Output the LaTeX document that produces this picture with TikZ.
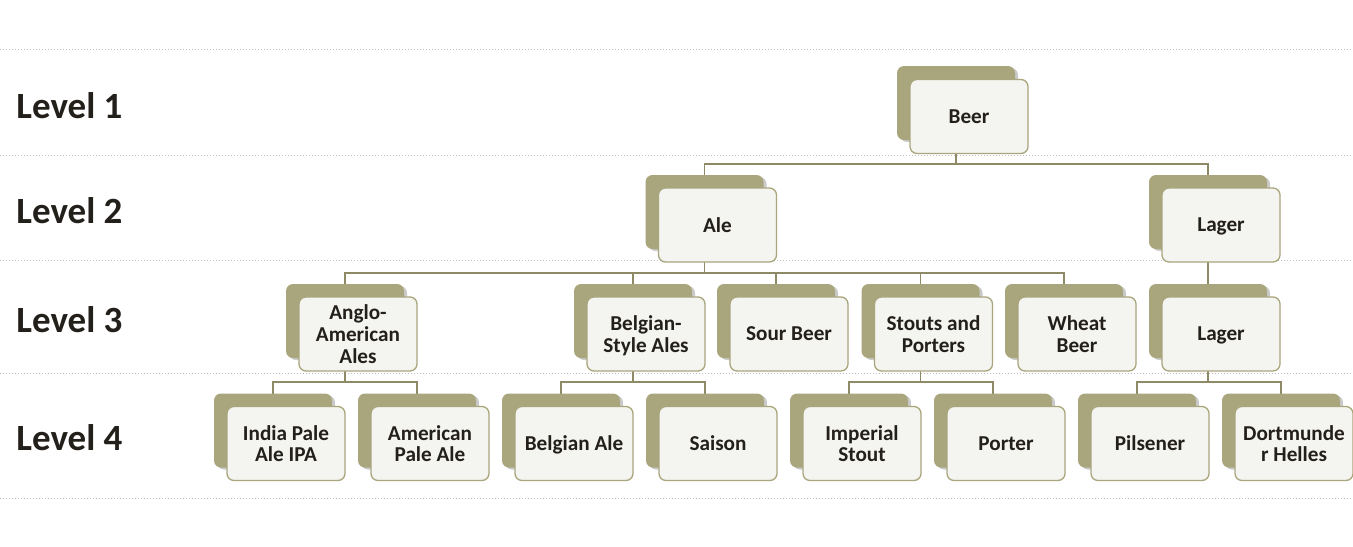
\documentclass[tikz,border=0pt]{standalone}
\usepackage{fontspec}
\setmainfont{Carlito}
\usepackage{xcolor}
\usetikzlibrary{calc,
	positioning,
	shadows,
	backgrounds}

\definecolor{khaki}{HTML}{A9A57D}
\definecolor{khakiline}{HTML}{8E8A66}
\definecolor{boxfill}{HTML}{F4F4F0}
\definecolor{ink}{HTML}{231F1A}

\begin{document}
\begin{tikzpicture}[x=0.5pt, y=-0.5pt,
	back/.style={fill=khaki, rounded corners=3.5pt, minimum width=59pt, minimum height=37pt, inner sep=0pt,
		drop shadow={shadow xshift=1.5pt, shadow yshift=-1pt, opacity=0.35, fill=black!60}},
	front/.style={fill=boxfill, draw=khaki, line width=0.65pt, rounded corners=3.5pt, minimum width=59pt, minimum height=37pt,
		inner sep=1pt, align=center, text depth=0pt, text=ink, font=\bfseries\fontsize{10.6}{10.8}\selectfont},
	conn/.style={draw=khakiline, line width=0.8pt},
	level/.style={anchor=base west, inner sep=0pt, text=ink, font=\bfseries\fontsize{18.5}{22}\selectfont},
	rule/.style={draw=black!25, densely dotted, line width=0.5pt}]
	\useasboundingbox (0,0) rectangle (1353,546);

	% level labels
	\node[level] (l1) at (16,118.3) {Level 1};
	\node[level] (l2) at (16,223.3) {Level 2};
	\node[level] (l3) at (16,332.7) {Level 3};
	\node[level] (l4) at (16,450.7) {Level 4};

	% level 1
	\node[back] (beer b) at (956,103) {};
	\node[front] (beer) at (969,116.5) {Beer};

	% level 2
	\node[back] (ale b) at (704.5,212) {};
	\node[front] (ale) at (717.5,225) {Ale};
	\node[back] (lager b) at (1208,212) {};
	\node[front] (lager) at (1221,225) {Lager};

	% level 3
	\node[back] (anglo b) at (345,321) {};
	\node[front] (anglo) at (358,334) {Anglo-\\American\\Ales};
	\node[back] (belgian b) at (633,321) {};
	\node[front] (belgian) at (646,334) {Belgian-\\Style Ales};
	\node[back] (sour b) at (776,321) {};
	\node[front] (sour) at (789,334) {Sour Beer};
	\node[back] (stouts b) at (920.5,321) {};
	\node[front] (stouts) at (933.5,334) {Stouts and\\Porters};
	\node[back] (wheat b) at (1064,321) {};
	\node[front] (wheat) at (1077,334) {Wheat\\Beer};
	\node[back] (lager3 b) at (1208,321) {};
	\node[front] (lager3) at (1221,334) {Lager};

	% level 4
	\node[back] (ipa b) at (273,430.5) {};
	\node[front] (ipa) at (286,443.5) {India Pale\\Ale IPA};
	\node[back] (apa b) at (417,430.5) {};
	\node[front] (apa) at (430,443.5) {American\\Pale Ale};
	\node[back] (bale b) at (561,430.5) {};
	\node[front] (bale) at (574,443.5) {Belgian Ale};
	\node[back] (saison b) at (705,430.5) {};
	\node[front] (saison) at (718,443.5) {Saison};
	\node[back] (imperial b) at (849,430.5) {};
	\node[front] (imperial) at (862,443.5) {Imperial\\Stout};
	\node[back] (porter b) at (993,430.5) {};
	\node[front] (porter) at (1006,443.5) {Porter};
	\node[back] (pils b) at (1137,430.5) {};
	\node[front] (pils) at (1150,443.5) {Pilsener};
	\node[back] (dort b) at (1281,430.5) {};
	\node[front] (dort) at (1294,443.5) {Dortmunde\\r Helles};

	\coordinate (j1) at (0,164);
	\coordinate (j2) at (0,273);
	\coordinate (j3) at (0,382);

	\begin{scope}[on background layer]
		\draw[rule] (0,49) -- (1353,49);
		\draw[rule] (0,155) -- (1353,155);
		\draw[rule] (0,260) -- (1353,260);
		\draw[rule] (0,373.5) -- (1353,373.5);
		\draw[rule] (0,498) -- (1353,498);

		\draw[conn] (beer b.center) -- (beer b.center |- j1);
		\draw[conn] (ale b.center) |- (j1 -| lager b.center) -- (lager b.center);

		\draw[conn] (ale b.center) -- (ale b.center |- j2);
		\draw[conn] (anglo b.center) |- (j2 -| wheat b.center) -- (wheat b.center);
		\draw[conn] (belgian b.center) -- (belgian b.center |- j2);
		\draw[conn] (sour b.center) -- (sour b.center |- j2);
		\draw[conn] (stouts b.center) -- (stouts b.center |- j2);
		\draw[conn] (lager b.center) -- (lager3 b.center);

		\draw[conn] (anglo b.center) -- (anglo b.center |- j3);
		\draw[conn] (ipa b.center) |- (j3 -| apa b.center) -- (apa b.center);
		\draw[conn] (belgian b.center) -- (belgian b.center |- j3);
		\draw[conn] (bale b.center) |- (j3 -| saison b.center) -- (saison b.center);
		\draw[conn] (stouts b.center) -- (stouts b.center |- j3);
		\draw[conn] (imperial b.center) |- (j3 -| porter b.center) -- (porter b.center);
		\draw[conn] (lager3 b.center) -- (lager3 b.center |- j3);
		\draw[conn] (pils b.center) |- (j3 -| dort b.center) -- (dort b.center);
	\end{scope}
\end{tikzpicture}
\end{document}
